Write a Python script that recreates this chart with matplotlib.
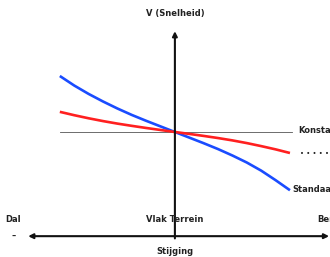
import matplotlib
matplotlib.use('Agg')
import matplotlib.pyplot as plt

# helling (grade) from dal to berg, and speed relative to vlak terrein
grade = [-1.0, -0.875, -0.75, -0.625, -0.5, -0.375, -0.25, -0.125, 0.0,
         0.125, 0.25, 0.375, 0.5, 0.625, 0.75, 0.875, 1.0]
standaard = [1.0, 0.83, 0.68, 0.545, 0.42, 0.305, 0.20, 0.10, 0.0,
             -0.10, -0.20, -0.305, -0.42, -0.545, -0.69, -0.86, -1.04]
konstant_vermogen = [0.36, 0.30, 0.245, 0.195, 0.15, 0.11, 0.072, 0.036, 0.0,
                     -0.034, -0.07, -0.108, -0.15, -0.198, -0.252, -0.31, -0.375]

fig = plt.figure(figsize=(3.3, 2.57), dpi=100)
ax = fig.add_axes([0, 0, 1, 1])
ax.set_xlim(-1.52, 1.348)
ax.set_ylim(-2.232, 2.357)
ax.axis('off')

# reference line (konstant)
ax.plot([-1.0, 1.02], [0, 0], color='#555555', lw=0.6)

ax.plot(grade, standaard, color='#1a4cff', lw=1.9,
        solid_capstyle='butt', solid_joinstyle='round')
ax.plot(grade, konstant_vermogen, color='#ff2020', lw=1.9,
        solid_capstyle='butt', solid_joinstyle='round')

# axes with arrows
ax.annotate('', xy=(1.34, -1.86), xytext=(-1.275, -1.86),
            arrowprops=dict(arrowstyle='<|-|>', color='#111111', lw=1.5,
                            mutation_scale=7, shrinkA=0, shrinkB=0))
ax.annotate('', xy=(0, 1.8), xytext=(0, -1.9),
            arrowprops=dict(arrowstyle='-|>', color='#111111', lw=1.5,
                            mutation_scale=7, shrinkA=0, shrinkB=0))

fs = 6.0
tc = '#222222'
kw = dict(fontsize=fs, color=tc, fontweight='bold', va='center')
ax.text(0, 2.11, 'V (Snelheid)', ha='center', **kw)
ax.text(1.07, 0.02, 'Konstant', ha='left', **kw)
ax.text(1.09, -0.39, '• • • • • •', ha='left', va='center', fontsize=5, color=tc)
ax.text(1.02, -1.03, 'Standaard', ha='left', **kw)
ax.text(-1.41, -1.57, 'Dal', ha='center', **kw)
ax.text(0, -1.57, 'Vlak Terrein', ha='center', **kw)
ax.text(1.24, -1.57, 'Berg', ha='left', **kw)
ax.text(-1.4, -1.87, '–', ha='center', **kw)
ax.text(0, -2.13, 'Stijging', ha='center', **kw)

fig.savefig('out.png', dpi=100)
